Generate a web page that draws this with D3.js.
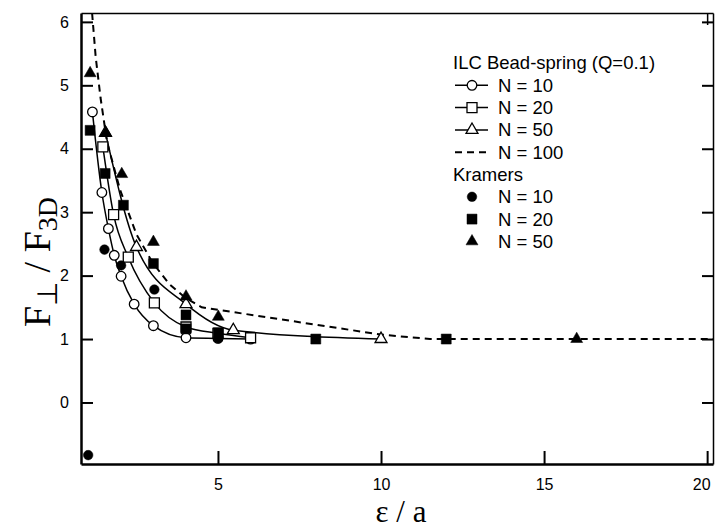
<!DOCTYPE html>
<html>
<head>
<meta charset="utf-8">
<script src="https://cdn.jsdelivr.net/npm/d3@7"></script>
<style>
body { margin: 0; background: #fff; }
</style>
</head>
<body>
<div id="chart"></div>
<script>
// ILC bead-spring model (Q=0.1): open symbols joined by lines
var ilcN10X = [1.15, 1.44, 1.64, 1.82, 2.03, 2.43, 3.02, 4.02, 5.0, 6.0];
var ilcN10Y = [4.58, 3.31, 2.74, 2.32, 1.99, 1.55, 1.21, 1.02, 1.01, 1.0];
var ilcN20X = [1.47, 1.8, 2.25, 3.05, 4.02, 5.0, 6.0];
var ilcN20Y = [4.03, 2.96, 2.29, 1.57, 1.19, 1.09, 1.02];
var ilcN50X = [1.55, 2.5, 4.02, 5.47, 10];
var ilcN50Y = [4.25, 2.45, 1.55, 1.14, 1.0];
// N = 100 is only a dashed curve
var ilcN100X = [1.14, 1.25, 1.4, 1.6, 2.0, 2.5, 3.0, 3.5, 4.0, 4.5, 10, 11.5, 20.18];
var ilcN100Y = [6.14, 5.45, 4.8, 4.1, 3.35, 2.65, 2.2, 1.87, 1.65, 1.5, 1.07, 1.0, 1.0];

// Kramers chain: filled symbols
var kramN10X = [1.02, 1.52, 2.03, 3.05, 5.01];
var kramN10Y = [-0.83, 2.41, 2.16, 1.78, 1.01];
var kramN20X = [1.08, 1.54, 2.1, 3.02, 4.02, 4.02, 5.01, 8, 12];
var kramN20Y = [4.29, 3.61, 3.11, 2.19, 1.38, 1.16, 1.10, 1.0, 1.0];
var kramN50X = [1.08, 1.56, 2.05, 3.02, 4.02, 5.01, 16];
var kramN50Y = [5.19, 4.25, 3.6, 2.53, 1.67, 1.35, 1.0];

var xTicks = [5, 10, 15, 20];
var yTicks = [0, 1, 2, 3, 4, 5, 6];

function main()
{
    var svgWidth = 715;
    var svgHeight = 529;
    var left = 81, right = 713, top = 13, bottom = 464;

    var svg = d3.select("#chart").append("svg")
        .attr("width", svgWidth)
        .attr("height", svgHeight)
        .style("font-family", "'Liberation Sans', Arial, sans-serif");

    var xScale = d3.scaleLinear().domain([0.8, 20.18]).range([left, right]);
    var yScale = d3.scaleLinear().domain([-0.97, 6.14]).range([bottom, top]);

    function pts(xs, ys) {
        return xs.map(function(x, i) { return [x, ys[i]]; });
    }

    var line = d3.line()
        .x(function(d) { return xScale(d[0]); })
        .y(function(d) { return yScale(d[1]); })
        .curve(d3.curveMonotoneX);

    var plot = svg.append("g");

    // solid ILC lines
    [[ilcN10X, ilcN10Y], [ilcN20X, ilcN20Y], [ilcN50X, ilcN50Y]].forEach(function(s) {
        plot.append("path")
            .datum(pts(s[0], s[1]))
            .attr("d", line)
            .attr("fill", "none")
            .attr("stroke", "#000")
            .attr("stroke-width", 1.5);
    });

    // dashed N = 100
    plot.append("path")
        .datum(pts(ilcN100X, ilcN100Y))
        .attr("d", line.curve(d3.curveLinear))
        .attr("fill", "none")
        .attr("stroke", "#000")
        .attr("stroke-width", 2)
        .attr("stroke-dasharray", "7,5");

    var circle = d3.symbol().type(d3.symbolCircle).size(72);
    var square = d3.symbol().type(d3.symbolSquare).size(100);
    var triangle = d3.symbol().type(d3.symbolTriangle).size(62);

    function markers(data, sym, filled) {
        plot.append("g").selectAll("path")
            .data(data)
            .enter()
            .append("path")
            .attr("transform", function(d) {
                return "translate(" + xScale(d[0]) + "," + yScale(d[1]) + ")";
            })
            .attr("d", sym)
            .attr("fill", filled ? "#000" : "#fff")
            .attr("stroke", "#000")
            .attr("stroke-width", filled ? 0.5 : 1.3);
    }

    markers(pts(ilcN10X, ilcN10Y), circle, false);
    markers(pts(ilcN20X, ilcN20Y), square, false);
    markers(pts(ilcN50X, ilcN50Y), triangle, false);
    markers(pts(kramN10X, kramN10Y), circle, true);
    markers(pts(kramN20X, kramN20Y), square, true);
    markers(pts(kramN50X, kramN50Y), triangle, true);

    // axes, ticks pointing inward
    svg.append("g")
        .attr("transform", "translate(0," + bottom + ")")
        .call(d3.axisBottom(xScale).tickValues(xTicks).tickSizeInner(-13).tickSizeOuter(0).tickPadding(15))
        .call(function(g) {
            g.select(".domain").attr("stroke-width", 2.5);
            g.selectAll(".tick line").attr("stroke-width", 2);
            g.selectAll("text").attr("font-size", 16).attr("fill", "#000");
            // keep the last label inside the page
            g.selectAll("text").filter(function(d) { return d === 20; }).attr("dx", -6);
        });

    svg.append("g")
        .attr("transform", "translate(" + left + ",0)")
        .call(d3.axisLeft(yScale).tickValues(yTicks).tickSizeInner(-12).tickSizeOuter(0).tickPadding(12))
        .call(function(g) {
            g.select(".domain").attr("stroke-width", 2.5);
            g.selectAll(".tick line").attr("stroke-width", 2);
            g.selectAll("text").attr("font-size", 16).attr("fill", "#000");
        });

    svg.append("g")
        .attr("transform", "translate(" + right + ",0)")
        .call(d3.axisRight(yScale).tickValues(yTicks).tickSizeInner(-11).tickSizeOuter(0).tickFormat(""))
        .call(function(g) {
            g.select(".domain").attr("stroke-width", 1.5);
            g.selectAll(".tick line").attr("stroke-width", 2);
        });

    svg.append("g")
        .attr("transform", "translate(0," + top + ")")
        .call(d3.axisTop(xScale).tickValues([20]).tickSizeInner(-12).tickSizeOuter(0).tickFormat(""))
        .call(function(g) {
            g.select(".domain").attr("stroke-width", 1.5);
            g.selectAll(".tick line").attr("stroke-width", 1.5);
        });

    // axis titles
    var yTitle = svg.append("text")
        .attr("transform", "translate(50,262) rotate(-90)")
        .attr("text-anchor", "middle")
        .style("font-family", "'Liberation Serif', 'Times New Roman', serif")
        .attr("font-size", 38);
    yTitle.append("tspan").text("F");
    yTitle.append("tspan").attr("dy", 7).attr("font-size", 28).text("\u22A5");
    yTitle.append("tspan").attr("dy", -7).text(" / F");
    yTitle.append("tspan").attr("dy", 7).attr("font-size", 28).text("3D");

    svg.append("text")
        .attr("x", 401)
        .attr("y", 522)
        .attr("text-anchor", "middle")
        .style("font-family", "'Liberation Serif', 'Times New Roman', serif")
        .attr("font-size", 31)
        .text("\u03B5 / a");

    // legend
    var lx = 453, ly = 63, step = 22.3;
    var legend = svg.append("g").attr("font-size", 18.5);
    var rows = [
        {label: "ILC Bead-spring (Q=0.1)", head: true},
        {label: "N = 10", sym: circle, line: true},
        {label: "N = 20", sym: square, line: true},
        {label: "N = 50", sym: triangle, line: true},
        {label: "N = 100", dash: true},
        {label: "Kramers", head: true},
        {label: "N = 10", sym: circle, filled: true},
        {label: "N = 20", sym: square, filled: true},
        {label: "N = 50", sym: triangle, filled: true}
    ];
    rows.forEach(function(r, i) {
        var y = ly + i * step;
        if (r.head) {
            legend.append("text").attr("x", lx).attr("y", y).attr("dy", "0.35em").text(r.label);
            return;
        }
        if (r.line || r.dash) {
            legend.append("line")
                .attr("x1", lx + 2).attr("x2", lx + 35)
                .attr("y1", y).attr("y2", y)
                .attr("stroke", "#000")
                .attr("stroke-width", r.dash ? 2 : 1.5)
                .attr("stroke-dasharray", r.dash ? "7,5" : null);
        }
        if (r.sym) {
            legend.append("path")
                .attr("transform", "translate(" + (lx + 19) + "," + y + ")")
                .attr("d", r.sym)
                .attr("fill", r.filled ? "#000" : "#fff")
                .attr("stroke", "#000")
                .attr("stroke-width", r.filled ? 0.5 : 1.3);
        }
        legend.append("text").attr("x", lx + 45).attr("y", y).attr("dy", "0.35em").text(r.label);
    });
}
main();
</script>
</body>
</html>
